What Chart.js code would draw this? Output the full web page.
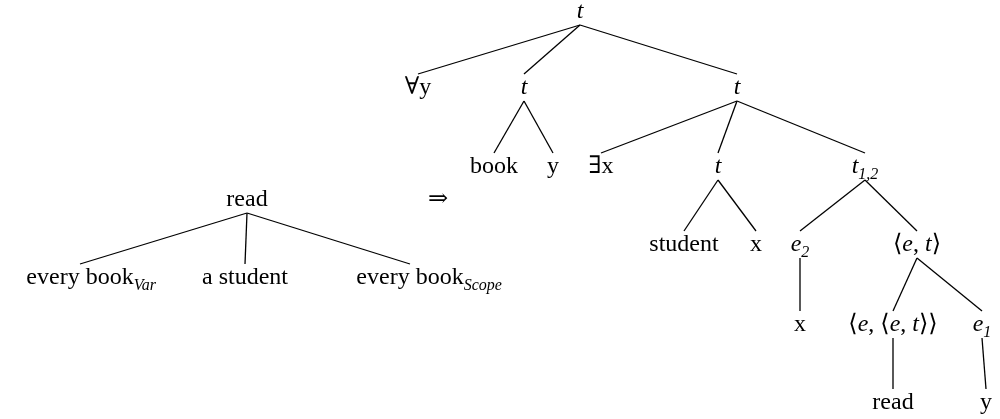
<!DOCTYPE html>
<html><head><meta charset="utf-8">
<script src="https://cdn.jsdelivr.net/npm/chart.js@4/dist/chart.umd.min.js"></script>
<style>html,body{margin:0;background:#fff}#wrap{width:1000px;height:419px}</style>
</head><body><div id="wrap"><canvas id="c"></canvas></div>
<script>
// node labels, subscripts, math flag (letters italic), and positions in diagram units
const nodeText = ['t','∀y','t','t','book','y','∃x','t','t','student','x','e','⟨e, t⟩','x','⟨e, ⟨e, t⟩⟩','e','read','y',
  'read','every book','a student','every book','⇒'];
const nodeSub = ['','','','','','','','','1,2','','','2','','','','1','','','','Var','','Scope',''];
const nodeMath = [1,0,1,1,0,0,0,1,1,0,0,1,1,0,1,1,0,0,0,0,0,0,0];
const nodeX = [580,418,524,737,494,553,601,718,865,684,756,800,917,800,893,982,893,986,247,80,245,410,438];
const nodeY = [12,88,88,88,167,167,167,167,167,245,245,245,245,325,325,325,403,403,200,278,278,278,200];
// parent -> child pairs
const edges = [[0,1],[0,2],[0,3],[2,4],[2,5],[3,6],[3,7],[3,8],[7,9],[7,10],[8,11],[8,12],[11,13],[12,14],[12,15],[14,16],[15,17],[18,19],[18,20],[18,21]];

const datasets = edges.map(([p, c]) => ({
  data: [{x: nodeX[p], y: nodeY[p] + 13}, {x: nodeX[c], y: nodeY[c] - 14}],
  showLine: true, pointRadius: 0, borderColor: '#000', borderWidth: 1.3
}));

const FONT = '"Liberation Serif", "DejaVu Serif", serif';
const labels = {
  id: 'labels',
  afterDatasetsDraw(chart) {
    const ctx = chart.ctx, xs = chart.scales.x, ys = chart.scales.y;
    ctx.save();
    ctx.fillStyle = '#000';
    ctx.textBaseline = 'middle';
    nodeText.forEach((t, i) => {
      const parts = [];
      for (const ch of t) {
        const it = nodeMath[i] && /[a-z]/.test(ch);
        parts.push({s: ch, f: (it ? 'italic ' : '') + '24px ' + FONT, dy: 0});
      }
      if (nodeSub[i]) parts.push({s: nodeSub[i], f: 'italic 16px ' + FONT, dy: 8});
      let w = 0;
      parts.forEach(p => { ctx.font = p.f; p.w = ctx.measureText(p.s).width; w += p.w; });
      const mainW = w - (nodeSub[i] ? parts[parts.length - 1].w : 0);
      let x = xs.getPixelForValue(nodeX[i]) - (nodeSub[i] && i >= 18 ? mainW / 2 : w / 2);
      const y = ys.getPixelForValue(nodeY[i]);
      parts.forEach(p => { ctx.font = p.f; ctx.fillText(p.s, x, y + p.dy); x += p.w; });
    });
    ctx.restore();
  }
};

new Chart(document.getElementById('c'), {
  type: 'scatter',
  data: {datasets},
  options: {
    responsive: true, maintainAspectRatio: false, animation: false,
    layout: {padding: 0},
    plugins: {legend: {display: false}, tooltip: {enabled: false}},
    scales: {
      x: {type: 'linear', min: 0, max: 1000, display: false},
      y: {type: 'linear', min: 0, max: 419, reverse: true, display: false}
    }
  },
  plugins: [labels]
});
</script></body></html>
